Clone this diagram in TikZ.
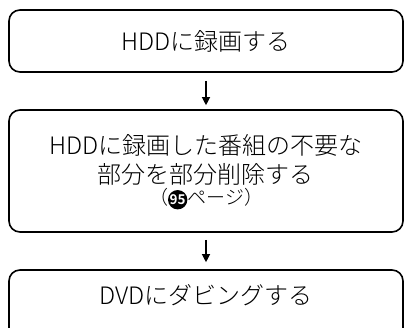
\documentclass[tikz,border=0pt]{standalone}
\usepackage{fontspec}
\setmainfont{Noto Sans CJK JP}[UprightFont={* Light}, BoldFont={* Bold}]
\usetikzlibrary{arrows.meta}

% Número de página en círculo negro
\newcommand{\maru}[1]{\tikz[baseline=(m.base)]\node[circle, draw=none, fill=black, text=white, minimum width=0pt, minimum height=0pt, inner sep=0.2pt, font=\fontsize{13.5}{13.5}\selectfont\bfseries] (m) {#1};}

\tikzset{
  caja/.style={draw, line width=1.6pt, rounded corners=11pt, minimum width=394pt, align=center, font=\fontsize{24}{29}\selectfont},
  flecha/.style={line width=1.2pt, -{Triangle[width=8pt,length=8pt]}}
}

\begin{document}
\begin{tikzpicture}[x=1pt, y=-1pt]
            % Marco de la imagen
            \useasboundingbox (0,0) rectangle (405,328);

            % Pasos del proceso
            \node[caja, minimum height=62pt] (grabar) at (206,41) {HDDに録画する};
            \node[caja, minimum height=122pt] (borrar) at (206,171)
                {\rule{0pt}{22pt}HDDに録画した番組の不要な\\部分を部分削除する\\[-8pt]{\fontsize{19}{22}\selectfont （\maru{95}ページ）}};
            \node[caja, text height=35pt, text depth=35pt, inner ysep=0pt] (copiar) at (206,305) {DVDにダビングする};

            % Flechas entre pasos
            \draw[flecha, shorten <=8pt, shorten >=4pt] (grabar.south) -- (borrar.north);
            \draw[flecha, shorten <=7pt, shorten >=7pt] (borrar.south) -- (copiar.north);
        \end{tikzpicture}
\end{document}
